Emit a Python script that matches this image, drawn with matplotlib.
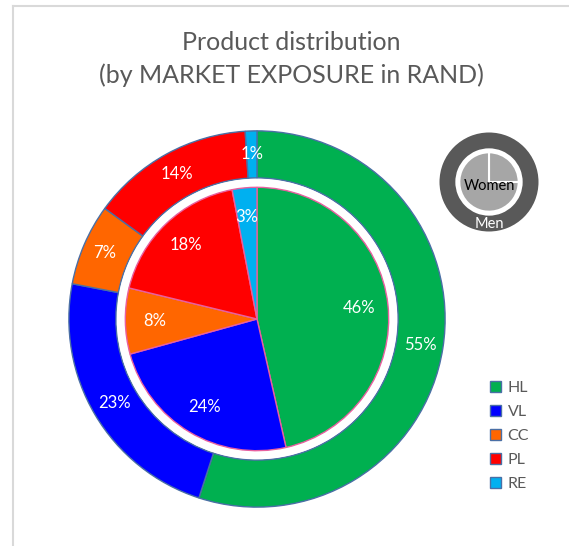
import matplotlib
matplotlib.use("Agg")
import matplotlib.pyplot as plt
from matplotlib.lines import Line2D
from matplotlib.patches import Patch

plt.rcParams['font.family'] = ['Lato', 'DejaVu Sans']

products = ['HL', 'VL', 'CC', 'PL', 'RE']
colors = ['#00b050', '#0000ff', '#ff6600', '#ff0000', '#00b0f0']
men_share = [55, 23, 7, 14, 1]      # outer ring
women_share = [46, 24, 8, 18, 3]    # inner pie
women_icon = [25, 75]

W, H = 569, 546
fig = plt.figure(figsize=(W / 100, H / 100), dpi=100)

# thin frame along top and left
fig.add_artist(Line2D([13 / W, 1], [1 - 6 / H, 1 - 6 / H], color='#d9d9d9', lw=1.5,
                      transform=fig.transFigure))
fig.add_artist(Line2D([13 / W, 13 / W], [0, 1 - 6 / H], color='#d9d9d9', lw=1.5,
                      transform=fig.transFigure))

fig.text(291 / W, 1 - 42 / H, 'Product distribution', ha='center', va='center',
         fontsize=18, color='#595959')
fig.text(291 / W, 1 - 75 / H, '(by MARKET EXPOSURE in RAND)', ha='center', va='center',
         fontsize=18, color='#595959')

# main chart, centre (257, 319) px, outer radius 190 px
cx, cy, r = 257, 319, 190
ax = fig.add_axes([(cx - r) / W, (H - cy - r) / H, 2 * r / W, 2 * r / H])
ax.set_aspect('equal')


def pct_label(p):
    return f'{p:.0f}%'


wedges, _, outer_txt = ax.pie(men_share, colors=colors, startangle=90, counterclock=False,
                              radius=1.0, autopct=pct_label, pctdistance=0.88,
                              wedgeprops=dict(width=0.25, edgecolor='#4a6fa5', linewidth=1))
for t in outer_txt:
    t.set_color('white')
    t.set_fontsize(12)

# white gap ring between the inner pie and outer ring
ax.pie([1], colors=['white'], radius=0.745, wedgeprops=dict(linewidth=0))
_, _, inner_txt = ax.pie(women_share, colors=colors, startangle=90, counterclock=False,
                         radius=0.70, autopct=pct_label, pctdistance=0.78,
                         wedgeprops=dict(edgecolor='#e8609f', linewidth=1))
for t in inner_txt:
    t.set_color('white')
    t.set_fontsize(12)
ax.set_xlim(-1.01, 1.01)
ax.set_ylim(-1.01, 1.01)
ax.axis('off')

# small men/women icon
ix, iy, ir = 489, 182, 50
ax2 = fig.add_axes([(ix - ir) / W, (H - iy - ir) / H, 2 * ir / W, 2 * ir / H])
ax2.set_aspect('equal')
ax2.pie([1], colors=['#595959'], radius=1.0, wedgeprops=dict(width=0.32, linewidth=0))
ax2.pie(women_icon, colors=['#a6a6a6', '#a6a6a6'], startangle=90, counterclock=False,
        radius=0.6, wedgeprops=dict(edgecolor='white', linewidth=1.5))
ax2.text(0, -0.08, 'Women', ha='center', va='center', fontsize=10.5, color='black')
ax2.text(0, -0.84, 'Men', ha='center', va='center', fontsize=10.5, color='white')
ax2.set_xlim(-1.01, 1.01)
ax2.set_ylim(-1.01, 1.01)
ax2.axis('off')

handles = [Patch(facecolor=c, edgecolor='#4a6fa5', linewidth=1) for c in colors]
fig.legend(handles, products, loc='center left', bbox_to_anchor=(482 / W, 1 - 436 / H),
           frameon=False, fontsize=11.5, labelcolor='#595959', handlelength=0.7,
           handleheight=0.7, handletextpad=0.4, labelspacing=0.62, borderpad=0)

fig.savefig('out.png', dpi=100)
